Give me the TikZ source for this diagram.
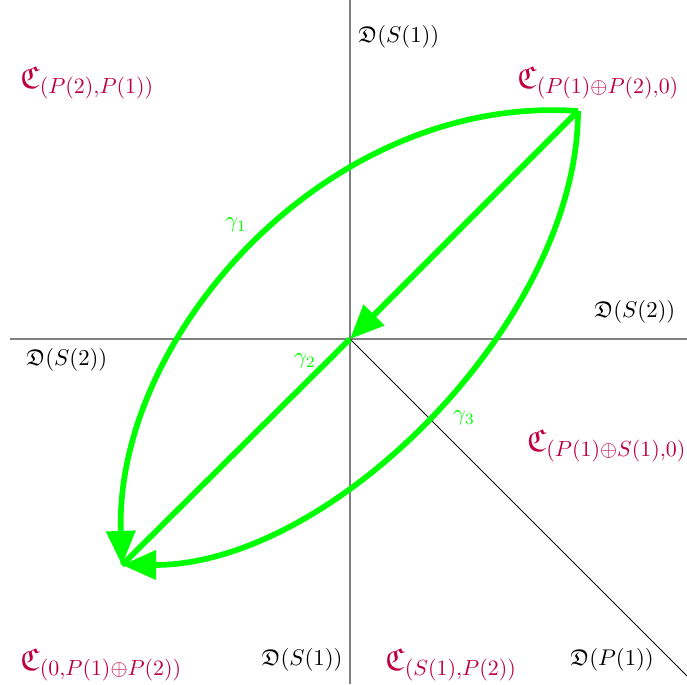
\documentclass[tikz,border=0pt]{standalone}
\usepackage{amssymb}
\usetikzlibrary{arrows.meta}
\begin{document}
\begin{tikzpicture}[x=0.44pt,y=0.44pt,
 axis/.style={gray, line width=0.5pt},
 diag/.style={black, line width=0.4pt},
 gline/.style={green, line width=2.5pt},
 gpath/.style={gline, -{Triangle[length=15pt,width=12.5pt]}},
 glabel/.style={green, inner sep=0pt},
 clabel/.style={purple, font=\Large, inner sep=0pt, scale=0.965, transform shape},
 dlabel/.style={black, inner sep=0pt}]
\useasboundingbox (0,0) rectangle (687,684);
\coordinate (O) at (350,345);
\coordinate (L) at (10,345);
\coordinate (R) at (687,345);
\coordinate (T) at (350,684);
\coordinate (Bt) at (350,0);
\coordinate (DE) at (687,8);
\draw[axis] (L) -- (R);
\draw[axis] (T) -- (Bt);
\draw[diag] (O) -- (DE);
\coordinate (A) at (578,573);
\coordinate (B) at (122,119);
\draw[gpath] (A) to[out=176, in=92, out looseness=1.0, in looseness=0.91] (B);
\draw[gpath] (A) to[out=-90, in=0, out looseness=0.83, in looseness=0.84] (B);
\draw[gpath] (A) -- (O);
\draw[gline] (O) -- (B);
\node[glabel] (g1) at (236,459) {$\gamma_1$};
\node[glabel] (g2) at (305,323) {$\gamma_2$};
\node[glabel] (g3) at (464,266) {$\gamma_3$};
\node[dlabel, anchor=west] (ds1t) at (358,647) {$\mathfrak{D}(S(1))$};
\node[clabel, anchor=west] (c21) at (20,601) {$\mathfrak{C}_{(P(2),P(1))}$};
\node[clabel, anchor=west] (c120) at (517,601) {$\mathfrak{C}_{(P(1)\oplus P(2),0)}$};
\node[dlabel, anchor=west] (ds2r) at (594,372) {$\mathfrak{D}(S(2))$};
\node[dlabel, anchor=west] (ds2l) at (26,324) {$\mathfrak{D}(S(2))$};
\node[clabel, anchor=east] (cps) at (687,238) {$\mathfrak{C}_{(P(1)\oplus S(1),0)}$};
\node[clabel, anchor=west] (c0p) at (20,19) {$\mathfrak{C}_{(0,P(1)\oplus P(2))}$};
\node[dlabel, anchor=east] (ds1b) at (343,24) {$\mathfrak{D}(S(1))$};
\node[clabel, anchor=west] (csp) at (385,19) {$\mathfrak{C}_{(S(1),P(2))}$};
\node[dlabel, anchor=west] (dp1) at (570,24) {$\mathfrak{D}(P(1))$};
\end{tikzpicture}
\end{document}
